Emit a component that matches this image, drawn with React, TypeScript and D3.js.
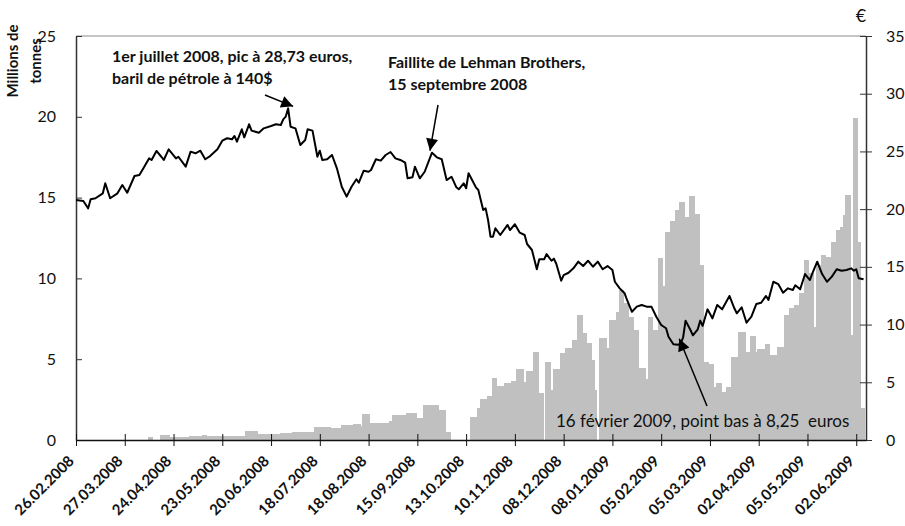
import { axisBottom, axisLeft, axisRight, line, scaleLinear, select } from 'd3';
import { useEffect, useRef } from 'react';

// trading-day index of each labelled tick (0 = 26.02.2008)
const labelDay = [0, 20, 40, 60, 80, 100, 120, 140, 160, 180, 200, 220, 240, 260, 280, 300, 320];
const dateLabels = [
  '26.02.2008', '27.03.2008', '24.04.2008', '23.05.2008', '20.06.2008', '18.07.2008',
  '18.08.2008', '15.09.2008', '13.10.2008', '10.11.2008', '08.12.2008', '08.01.2009',
  '05.02.2009', '05.03.2009', '02.04.2009', '05.05.2009', '02.06.2009'
];
const tonnesTicks = [0, 5, 10, 15, 20, 25];
const euroTicks = [0, 5, 10, 15, 20, 25, 30, 35];
const lastDay = 324;

// price of the EUA (euros)
const priceDay = [
  0, 3, 5, 6, 8, 11, 12, 14, 17, 19, 21, 24, 26, 28, 30, 31, 33, 35, 36, 38, 41, 42, 45, 47, 49,
  51, 53, 55, 58, 60, 62, 64, 65, 66, 68, 69, 71, 72, 75, 77, 80, 82, 84, 85, 86, 87, 88, 90, 92,
  94, 95, 97, 99, 100, 101, 103, 105, 107, 109, 111, 113, 115, 116, 118, 120, 121, 123, 125, 127,
  129, 131, 133, 135, 136, 138, 139, 141, 143, 146, 148, 150, 152, 154, 156, 157, 159, 160, 161,
  164, 165, 167, 168, 169, 170, 171, 172, 174, 177, 178, 180, 182, 184, 185, 187, 189, 190, 192,
  193, 195, 196, 197, 199, 200, 202, 204, 206, 208, 210, 212, 214, 216, 218, 220, 221, 223, 225,
  226, 228, 230, 232, 234, 236, 238, 240, 242, 243, 245, 247, 248, 249, 250, 252, 253, 255, 256,
  257, 259, 261, 263, 265, 268, 270, 271, 273, 275, 277, 279, 281, 283, 284, 286, 288, 290, 292,
  294, 295, 297, 299, 301, 302, 304, 306, 308, 310, 312, 314, 316, 318, 319, 320, 321, 323
];
const priceEur = [
  20.79, 20.71, 20.07, 20.85, 20.94, 21.37, 22.24, 20.94, 21.37, 22.09, 21.42, 22.87, 22.96, 23.68,
  24.4, 24.26, 25.04, 24.54, 24.26, 25.18, 24.4, 24.54, 23.68, 24.98, 24.84, 25.06, 24.32, 24.6,
  25.18, 25.93, 26.14, 26.05, 26.34, 25.84, 26.92, 26.22, 27.35, 26.8, 26.62, 27.0, 27.2, 27.35,
  27.29, 27.78, 28.01, 28.73, 27.14, 27.0, 25.56, 25.99, 26.92, 26.8, 24.54, 25.06, 24.26, 24.32,
  24.69, 23.54, 21.94, 21.08, 21.94, 22.59, 22.29, 23.33, 23.24, 23.39, 24.32, 24.2, 24.69, 24.95,
  24.4, 24.26, 24.02, 22.67, 22.76, 23.68, 22.67, 23.24, 24.89, 24.49, 24.32, 22.52, 22.81, 21.89,
  21.72, 22.24, 21.81, 23.11, 21.89, 21.66, 19.93, 20.07, 19.06, 17.61, 17.61, 18.34, 17.76, 18.63,
  18.19, 18.69, 17.96, 17.76, 16.98, 16.46, 14.79, 15.65, 15.65, 16.11, 15.53, 15.71, 15.25, 13.8,
  14.29, 14.49, 14.87, 15.45, 15.07, 15.53, 15.01, 15.45, 14.79, 15.07, 14.73, 13.71, 13.14, 12.71,
  12.13, 11.11, 11.55, 11.7, 11.55, 11.55, 10.68, 9.96, 9.68, 8.95, 8.3, 8.25, 8.35, 8.9, 10.34,
  9.53, 9.07, 9.59, 10.34, 9.88, 11.32, 10.54, 11.7, 11.32, 12.48, 11.41, 10.98, 11.5, 10.16, 10.68,
  11.78, 11.89, 12.48, 12.13, 13.71, 13.51, 12.76, 13.14, 13.0, 13.4, 13.06, 14.38, 13.86, 14.44,
  15.45, 14.38, 13.71, 14.15, 14.79, 14.67, 14.73, 14.87, 14.67, 14.79, 14.01, 13.92
];

// traded volume (millions de tonnes): first trading day of each level and its value
const volDay = [
  30, 32, 35, 39, 47, 52, 54, 62, 70, 75, 84, 89, 98, 105, 109, 114, 117, 118, 121, 129,
  130, 136, 140, 143, 149, 152, 154, 162, 165, 166, 169, 171, 173, 176, 179, 181, 184, 185, 188, 190,
  192, 193, 195, 196, 199, 201, 204, 206, 208, 210, 212, 213, 214, 215, 218, 219, 222, 223, 225, 227,
  229, 231, 234, 235, 237, 239, 241, 242, 244, 246, 248, 250, 252, 254, 256, 258, 260, 262, 263, 265,
  267, 269, 272, 275, 277, 279, 280, 283, 285, 288, 291, 293, 295, 297, 299, 301, 303, 304, 306, 308,
  310, 312, 314, 315, 316, 318, 319, 321, 322
];
const volMt = [
  0.17, 0, 0.31, 0.2, 0.25, 0.31, 0.22, 0.27, 0.56, 0.37, 0.45, 0.52, 0.78, 0.72, 0.93, 0.99, 0.87,
  1.59, 1.07, 1.2, 1.55, 1.69, 1.34, 2.17, 1.86, 0.5, 0, 1.44, 1.96, 2.52, 2.72, 3.82, 3.34, 3.55,
  3.67, 4.37, 3.6, 4.29, 5.47, 2.89, 0, 4.85, 3.1, 4.37, 5.37, 5.67, 6.19, 7.74, 6.6, 6.0, 4.95,
  3.09, 0, 6.29, 5.7, 7.43, 7.94, 9.28, 8.46, 7.63, 6.81, 4.44, 3.8, 7.63, 6.8, 11.24, 9.5, 12.89,
  13.57, 14.23, 14.75, 13.78, 15.1, 13.98, 10.83, 4.85, 4.7, 3.3, 3.55, 2.99, 3.3, 5.16, 6.7, 5.47,
  6.44, 5.47, 5.61, 5.94, 5.26, 5.78, 7.74, 8.15, 8.35, 9.12, 11.14, 10.31, 7.0, 10.83, 11.45,
  11.35, 12.27, 13.0, 13.2, 13.92, 15.16, 6.5, 19.9, 12.27, 1.96
];

const FONT = 'Lato, "Open Sans", sans-serif';

function App(): JSX.Element {
  const svgRef = useRef<SVGSVGElement | null>(null);
  const width = 905;
  const height = 526;
  const margin = { top: 36, right: 39, bottom: 86, left: 76 };

  useEffect(() => {
    if (svgRef.current) svgRef.current.innerHTML = '';
    const svg = select(svgRef.current);
    svg.attr('width', width).attr('height', height).style('font-family', FONT);

    const left = margin.left;
    const right = width - margin.right;
    const top = margin.top;
    const bottom = height - margin.bottom;

    const x = scaleLinear().domain([0, lastDay]).range([left, right]);
    const yT = scaleLinear().domain([0, 25]).range([bottom, top]);
    const yE = scaleLinear().domain([0, 35]).range([bottom, top]);

    const defs = svg.append('defs');
    defs
      .append('marker')
      .attr('id', 'arrowhead')
      .attr('viewBox', '0 0 10 10')
      .attr('refX', 10)
      .attr('refY', 5)
      .attr('markerUnits', 'userSpaceOnUse')
      .attr('markerWidth', 15)
      .attr('markerHeight', 12)
      .attr('orient', 'auto')
      .append('path')
      .attr('d', 'M0,0 L10,5 L0,10 z')
      .attr('fill', 'black');

    // volume bars
    const bars = svg.append('g').attr('shape-rendering', 'crispEdges');
    for (let k = 0; k < volDay.length; k++) {
      const v = volMt[k];
      if (v <= 0) continue;
      const next = k + 1 < volDay.length ? volDay[k + 1] : lastDay + 0.5;
      const x0 = Math.max(left, x(volDay[k] - 0.5));
      const x1 = Math.min(right - 1, x(next - 0.5) + 0.6);
      bars
        .append('rect')
        .attr('x', x0)
        .attr('y', yT(v))
        .attr('width', Math.max(0, x1 - x0))
        .attr('height', bottom - yT(v))
        .attr('fill', '#c0c0c0');
    }

    // top border
    svg
      .append('line')
      .attr('x1', left)
      .attr('x2', right)
      .attr('y1', top)
      .attr('y2', top)
      .attr('stroke', '#8c8c8c')
      .attr('stroke-width', 1);

    // left axis
    const gl = svg
      .append('g')
      .attr('transform', `translate(${left},0)`)
      .call(axisLeft(yT).tickValues(tonnesTicks).tickSize(6).tickSizeOuter(0).tickPadding(14));
    gl.select('.domain').attr('stroke', '#333').attr('stroke-width', 1.5);
    gl.selectAll('.tick line').attr('x2', 6).attr('stroke', '#333');
    gl.selectAll('.tick text').attr('font-size', 16).attr('font-family', FONT).attr('fill', '#111');

    // right axis
    const gr = svg
      .append('g')
      .attr('transform', `translate(${right},0)`)
      .call(axisRight(yE).tickValues(euroTicks).tickSize(6).tickSizeOuter(0).tickPadding(14));
    gr.select('.domain').attr('stroke', '#333').attr('stroke-width', 1.5);
    gr.selectAll('.tick line').attr('x1', -6).attr('stroke', '#333');
    gr.selectAll('.tick text').attr('font-size', 16).attr('font-family', FONT).attr('fill', '#111');

    // bottom axis
    const gb = svg
      .append('g')
      .attr('transform', `translate(0,${bottom})`)
      .call(axisBottom(x).tickValues(labelDay).tickSize(6).tickSizeOuter(0).tickFormat(() => ''));
    gb.select('.domain').attr('stroke', '#111').attr('stroke-width', 1.5);
    gb.selectAll('.tick line').attr('y1', -6).attr('stroke', '#111');

    labelDay.forEach((d, i) => {
      svg
        .append('text')
        .attr('transform', `translate(${x(d) - 1},${bottom + 22}) rotate(-45)`)
        .attr('text-anchor', 'end')
        .attr('font-size', 15)
        .attr('font-weight', 'bold')
        .attr('fill', '#111')
        .text(dateLabels[i]);
    });

    // price line
    const pts = priceDay.map((d, i) => ({ d, v: priceEur[i] }));
    const lineGen = line<{ d: number; v: number }>()
      .x((p) => x(p.d))
      .y((p) => yE(p.v));
    svg
      .append('path')
      .datum(pts)
      .attr('d', lineGen)
      .attr('fill', 'none')
      .attr('stroke', 'black')
      .attr('stroke-width', 2)
      .attr('stroke-linejoin', 'round');

    // axis titles
    const yTitle = svg
      .append('text')
      .attr('transform', 'translate(18,61) rotate(-90)')
      .attr('text-anchor', 'middle')
      .attr('font-size', 15)
      .attr('font-weight', 'bold')
      .attr('fill', '#111');
    yTitle.append('tspan').attr('x', 0).attr('dy', 0).text('Millions de');
    yTitle.append('tspan').attr('x', 0).attr('dy', 23).text('tonnes');

    svg
      .append('text')
      .attr('x', right - 5)
      .attr('y', 22)
      .attr('text-anchor', 'middle')
      .attr('font-size', 18)
      .attr('fill', '#111')
      .text('€');

    // annotations
    const note = (tx: number, ty: number, lines: string[], bold: boolean, size: number): void => {
      const t = svg
        .append('text')
        .attr('x', tx)
        .attr('y', ty)
        .attr('font-size', size)
        .attr('font-weight', bold ? 'bold' : 'normal')
        .attr('fill', '#111')
        .style('white-space', 'pre');
      lines.forEach((s, i) => {
        t.append('tspan')
          .attr('x', tx)
          .attr('dy', i === 0 ? 0 : 22)
          .text(s);
      });
    };
    const arrow = (x1: number, y1: number, x2: number, y2: number): void => {
      svg
        .append('line')
        .attr('x1', x1)
        .attr('y1', y1)
        .attr('x2', x2)
        .attr('y2', y2)
        .attr('stroke', 'black')
        .attr('stroke-width', 1.5)
        .attr('marker-end', 'url(#arrowhead)');
    };

    note(112, 62, ['1er juillet 2008, pic à 28,73 euros,', 'baril de pétrole à 140$'], true, 16);
    arrow(265, 95, x(87) + 5, yE(28.73) - 2);

    note(388, 68, ['Faillite de Lehman Brothers,', '15 septembre 2008'], true, 16);
    arrow(438, 105, x(146) - 2, yE(24.89) - 2);

    note(556, 427, ['16 février 2009, point bas à 8,25  euros'], false, 17);
    arrow(707, 406, x(247) + 1, yE(8.25) - 6);
  }, [margin.bottom, margin.left, margin.right, margin.top]);

  return (
    <div style={{ position: 'absolute', left: 0, top: 0 }}>
      <svg ref={svgRef} />
    </div>
  );
}
export default App;
